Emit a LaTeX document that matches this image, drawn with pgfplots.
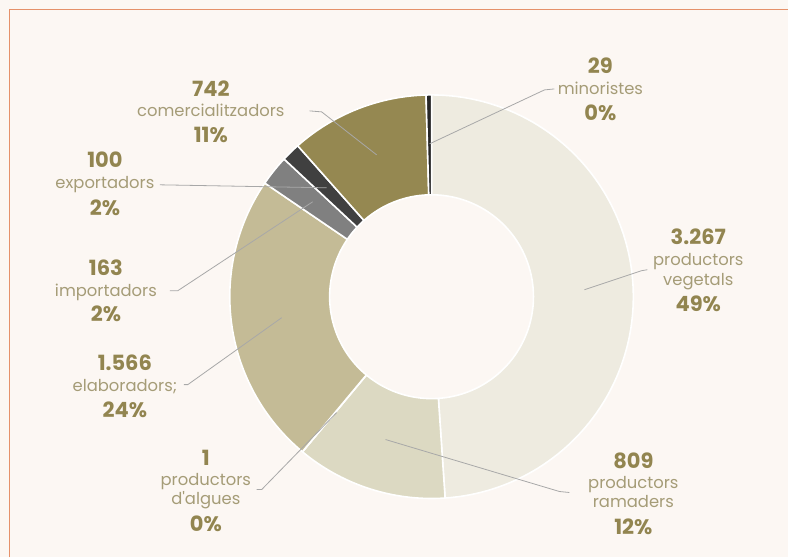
\documentclass[border=0pt]{standalone}
\usepackage{pgfplots}
\pgfplotsset{compat=1.18}
\usepackage{fontspec}
\setmainfont{Poppins}[Ligatures=TeXReset]
\definecolor{bg}{HTML}{FCF7F3}
\definecolor{borderorange}{HTML}{E5916A}
\definecolor{cveg}{HTML}{EEEBE0}
\definecolor{cram}{HTML}{DCD9C2}
\definecolor{calg}{HTML}{C9C2A0}
\definecolor{celab}{HTML}{C4BB96}
\definecolor{cimp}{HTML}{808080}
\definecolor{cexp}{HTML}{404040}
\definecolor{ccom}{HTML}{958851}
\definecolor{cmin}{HTML}{262626}
\definecolor{numc}{HTML}{928550}
\definecolor{labc}{HTML}{A59C77}
\definecolor{leadc}{HTML}{A8A8A8}
% start (cumulative count), value, colour ; total = 6677
\newcommand\slice[3]{%
 \addplot[fill=#3, draw=white, line width=1.6pt, line join=round, domain=0:3, samples=301, variable=\t]
 ({432 + (\t<=1 ? 202 : (\t<=2 ? 202-100*(\t-1) : 102)) * sin(360*(#1 + #2*(\t<=1 ? \t : (\t<=2 ? 1 : 3-\t)))/6677)},
  {297 - (\t<=1 ? 202 : (\t<=2 ? 202-100*(\t-1) : 102)) * cos(360*(#1 + #2*(\t<=1 ? \t : (\t<=2 ? 1 : 3-\t)))/6677)}) -- cycle;
}
\newcommand\numtxt[3]{\node[anchor=base, text=numc, font=\fontsize{21}{21}\selectfont\bfseries, inner sep=0pt] at (axis cs:#1,#2) {#3};}
\newcommand\labtxt[3]{\node[anchor=base, text=labc, font=\fontsize{16.4}{16.4}\selectfont, inner sep=0pt] at (axis cs:#1,#2) {#3};}
\begin{document}
\begin{tikzpicture}
\begin{axis}[
  width=789pt, height=558pt, scale only axis,
  xmin=0, xmax=789, ymin=0, ymax=558, y dir=reverse,
  hide axis, clip=false,
]
\fill[bg] (axis cs:0,0) rectangle (axis cs:789,558);
\addplot[borderorange, line width=1.6pt] coordinates {(9.5,558) (9.5,9.5) (789,9.5)};

\slice{0}{3267}{cveg}
\slice{3267}{809}{cram}
\slice{4076}{1}{calg}
\slice{4077}{1566}{celab}
\slice{5643}{163}{cimp}
\slice{5806}{100}{cexp}
\slice{5906}{742}{ccom}
\slice{6648}{29}{cmin}

% leader lines
\addplot[leadc, line width=0.8pt] coordinates {(310,111) (322,112) (377,155)};
\addplot[leadc, line width=0.8pt] coordinates {(555,89) (545,90) (430,144)};
\addplot[leadc, line width=0.8pt] coordinates {(160,185) (327,188)};
\addplot[leadc, line width=0.8pt] coordinates {(170,291) (178,291) (313,202)};
\addplot[leadc, line width=0.8pt] coordinates {(184,385) (188,385) (282,318)};
\addplot[leadc, line width=0.8pt] coordinates {(257,490) (262,490) (337,413)};
\addplot[leadc, line width=0.8pt] coordinates {(570,493) (560,492) (386,440)};
\addplot[leadc, line width=0.8pt] coordinates {(648,270) (642,271) (585,290)};

% labels
\numtxt{211}{97}{742}
\labtxt{211}{117}{comercialitzadors}
\numtxt{211}{143}{11\%}

\numtxt{601}{74}{29}
\labtxt{601}{95}{minoristes}
\numtxt{601}{121}{0\%}

\numtxt{105}{168}{100}
\labtxt{105}{189}{exportadors}
\numtxt{105}{216}{2\%}

\numtxt{106}{276}{163}
\labtxt{106}{297}{importadors}
\numtxt{106}{322}{2\%}

\numtxt{125}{371}{1.566}
\labtxt{125}{392}{elaboradors;}
\numtxt{125}{418}{24\%}

\numtxt{206}{466}{1}
\labtxt{206}{486}{productors}
\labtxt{206}{505}{d'algues}
\numtxt{206}{532}{0\%}

\numtxt{634}{469}{809}
\labtxt{634}{489}{productors}
\labtxt{634}{508}{ramaders}
\numtxt{634}{535}{12\%}

\numtxt{699}{245}{3.267}
\labtxt{699}{266}{productors}
\labtxt{699}{286}{vegetals}
\numtxt{699}{312}{49\%}
\end{axis}
\end{tikzpicture}
\end{document}
